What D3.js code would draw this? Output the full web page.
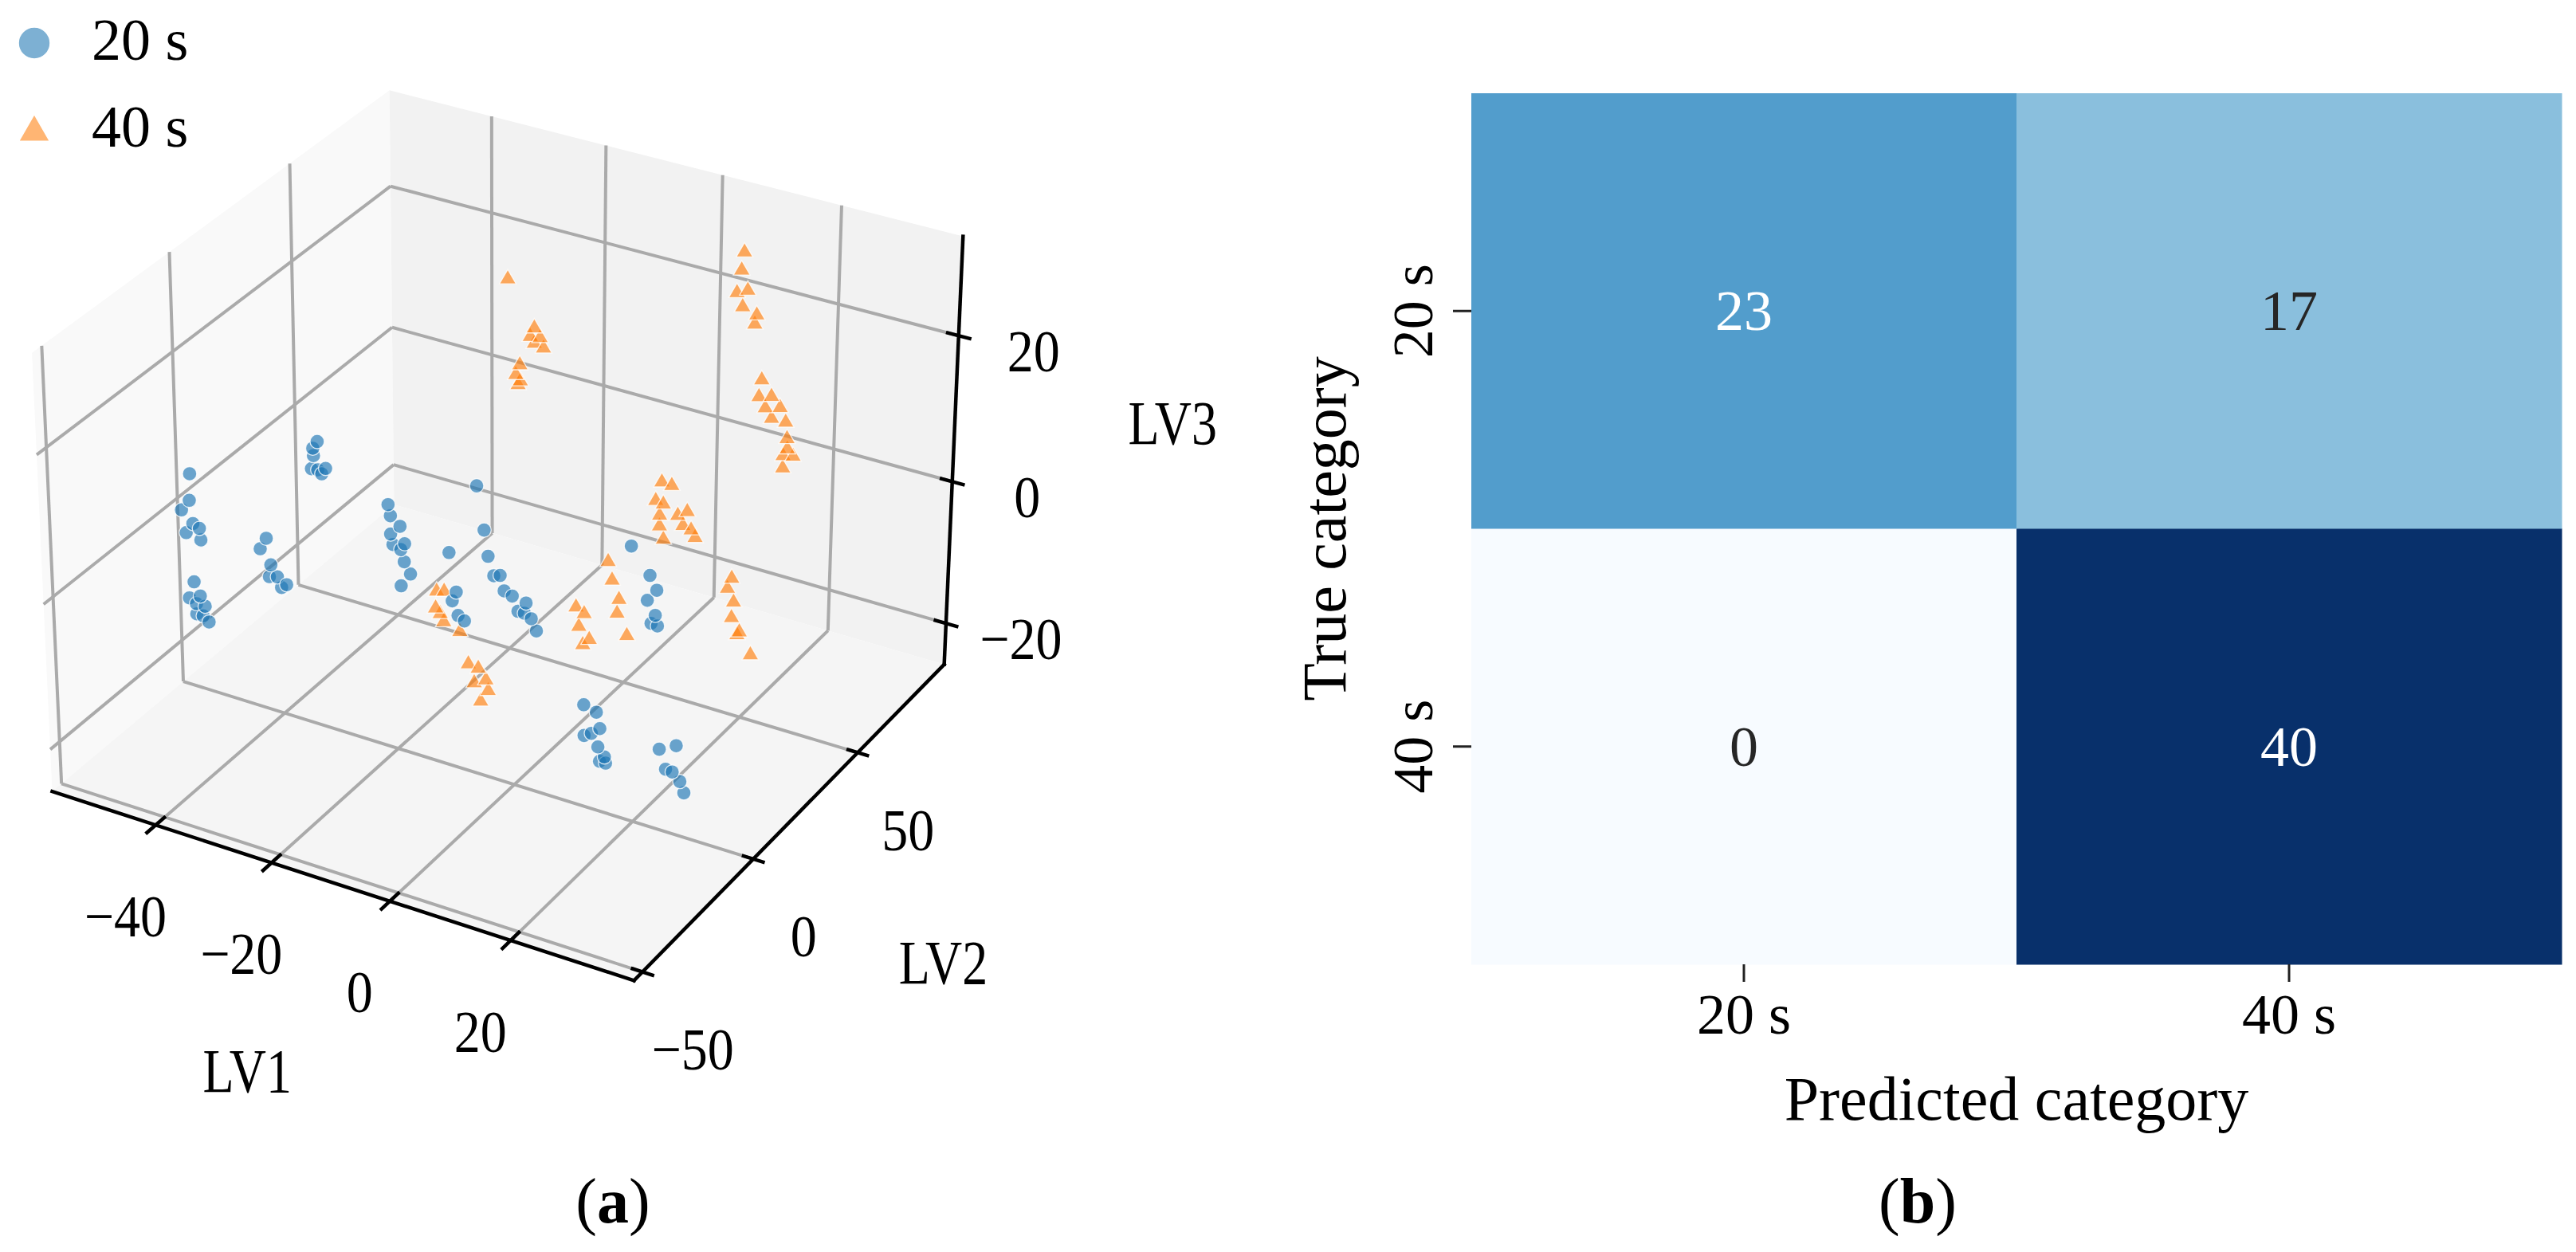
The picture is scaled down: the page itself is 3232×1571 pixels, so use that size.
<!DOCTYPE html>
<html>
<head>
<meta charset="utf-8">
<script src="https://cdn.jsdelivr.net/npm/d3@7"></script>
<style>
  html, body { margin: 0; padding: 0; background: #fff; }
  svg { display: block; }
  text { font-family: "Liberation Serif", "Times New Roman", serif; fill: #000; }
</style>
</head>
<body>
<svg id="chart" width="3232" height="1571"></svg>
<script>
// ---------------- data ----------------
// (a) latent-variable scores [LV1, LV2, LV3]
const classes = ["20 s", "40 s"];
const scores20 = [
  [-41.9,-31.6,15.4],[-42.1,-31.6,11.8],[-43.5,-31.6,10.2],[-41.6,-31.6,8.8],[-42.8,-31.6,7.3],[-40.5,-31.6,8.4],[-40.3,-31.6,6.9],
  [-41.7,-31.6,0.9],[-42.6,-31.6,-1.5],[-40.7,-31.6,-0.8],[-41.4,-31.6,-2.0],[-39.9,-31.6,-2.0],[-41.4,-31.6,-3.4],[-40.3,-31.6,-3.4],[-39.3,-31.6,-4.0],
  [-41.7,20.0,6.3],[-42.5,20.0,5.2],[-42.4,20.0,4.2],[-42.8,20.0,2.3],[-41.7,20.0,2.4],[-40.3,20.0,2.9],[-41.0,20.0,2.0],
  [-40.1,-5.8,0.2],[-41.2,-5.8,-1.5],[-39.4,-5.8,-3.3],[-39.7,-5.8,-5.0],[-38.3,-5.8,-4.7],[-37.6,-5.8,-6.0],[-36.7,-5.8,-5.4],
  [-39.9,45.8,-8.9],[-39.5,45.8,-10.4],[-37.8,45.8,-11.5],[-39.5,45.8,-13.0],[-37.0,45.8,-13.8],[-39.1,45.8,-14.4],[-37.7,45.8,-14.8],[-37.1,45.8,-16.4],[-36.0,45.8,-17.9],[-37.7,45.8,-20.0],
  [-29.2,58.7,-7.2],[-27.9,58.7,-13.2],[-27.2,58.7,-16.8],[-29.1,45.8,-13.2],
  [-16.2,32.9,-9.9],[-15.1,32.9,-9.6],[-14.4,32.9,-11.6],[-13.0,32.9,-12.0],[-10.6,32.9,-12.4],[-12.0,32.9,-13.9],[-10.9,32.9,-13.9],[-9.7,32.9,-14.4],[-8.8,32.9,-15.9],
  [-17.7,20.0,-9.0],[-18.4,20.0,-10.4],[-17.4,20.0,-12.2],[-16.3,20.0,-12.7],
  [-4.4,65.1,-11.7],
  [3.5,52.3,-10.5],[4.7,52.3,-12.3],[3.1,52.3,-14.1],[4.5,52.3,-15.9],[3.8,52.3,-17.2],[4.9,52.3,-17.3],
  [13.8,-5.8,-9.6],[15.9,-5.8,-10.1],[16.5,-5.8,-12.2],[13.9,-5.8,-13.8],[15.1,-5.8,-13.2],[16.2,-5.8,-14.8],[17.3,-5.8,-15.9],[16.5,-5.8,-16.7],[17.5,-5.8,-16.7],
  [21.7,7.1,-17.5],[24.5,7.1,-16.3],[22.8,7.1,-20.0],[23.9,7.1,-20.1],[25.2,7.1,-21.1],[25.9,7.1,-22.5]
];
const scores40 = [
  [-23.7,58.7,22.7],
  [-19.1,58.7,17.0],[-19.8,58.7,15.7],[-18.1,58.7,15.9],[-19.1,58.7,14.9],[-17.5,58.7,14.6],
  [-21.6,58.7,11.4],[-22.3,58.7,9.9],[-21.5,58.7,9.2],[-21.9,58.7,8.6],
  [9.4,78.0,28.6],[9.0,78.0,26.1],[8.3,78.0,22.9],[10.1,78.0,23.6],[9.3,78.0,21.2],[11.7,78.0,20.6],[11.4,78.0,19.3],
  [12.8,78.0,12.0],[12.4,78.0,9.6],[14.5,78.0,10.1],[13.5,78.0,8.3],[16.0,78.0,8.9],[14.6,78.0,7.1],[17.0,78.0,7.1],[17.3,78.0,4.9],[17.4,78.0,3.5],[16.7,78.0,2.4],[18.4,78.0,2.7],[16.7,78.0,0.7],
  [3.0,58.7,0.7],[4.7,58.7,0.6],[2.0,58.7,-2.1],[3.3,58.7,-2.3],[2.7,58.7,-4.0],[5.8,58.7,-3.3],[7.4,58.7,-2.4],[2.7,58.7,-5.5],[6.7,58.7,-4.5],[8.1,58.7,-4.8],[3.4,58.7,-7.2],[8.8,58.7,-5.7],
  [3.4,32.9,-3.3],[4.1,32.9,-5.7],[5.3,32.9,-8.1],[5.0,32.9,-10.1],[6.7,32.9,-12.8],
  [-2.0,32.9,-10.9],[-0.6,32.9,-11.5],[-1.5,32.9,-13.5],[0.3,32.9,-14.9],[-0.8,32.9,-15.9],
  [10.7,71.6,-14.5],[10.0,71.6,-16.1],[11.1,71.6,-17.8],[10.8,71.6,-20.1],[11.8,71.6,-22.3],[12.2,71.6,-21.8],[14.2,71.6,-24.6],
  [-21.1,20.0,-9.7],[-19.8,20.0,-9.4],[-21.3,20.0,-12.1],[-20.5,20.0,-12.7],[-19.9,20.0,-13.7],[-17.1,20.0,-14.4],
  [-10.6,7.1,-13.7],[-8.9,7.1,-13.9],[-9.6,7.1,-16.1],[-7.6,7.1,-15.2],[-7.2,7.1,-16.6],[-8.5,7.1,-18.4]
];
const lv1Range = [-58.2, 40.0];
const lv2Range = [-53.7, 93.7];
const lv3Range = [-25.9, 33.3];
const lv1Ticks = [-40, -20, 0, 20];
const lv2Ticks = [-50, 0, 50];
const lv3Ticks = [-20, 0, 20];

// (b) confusion matrix
const cmCategories = ["20 s", "40 s"];
const cmCounts = [[23, 17], [0, 40]];   // rows: true, cols: predicted

// ---------------- setup ----------------
const svg = d3.select("#chart");
svg.append("rect").attr("width", 3232).attr("height", 1571).attr("fill", "#fff");
const fmt = d3.format("d");

// matplotlib-like 3d view: elev 30, azim -60, perspective, box aspect 4:4:3
const view = { elev: 30, azim: -60, dist: 10, scale: 7320, cx: 635, cy: 646 };
const boxNorm = 1.8294640721620434 / Math.hypot(4, 4, 3);
const half = [2 * boxNorm, 2 * boxNorm, 1.5 * boxNorm];
const bx = d3.scaleLinear().domain(lv1Range).range([-half[0], half[0]]);
const by = d3.scaleLinear().domain(lv2Range).range([-half[1], half[1]]);
const bz = d3.scaleLinear().domain(lv3Range).range([-half[2], half[2]]);
const el = view.elev * Math.PI / 180, az = view.azim * Math.PI / 180;
const eyeDir = [Math.cos(el) * Math.cos(az), Math.cos(el) * Math.sin(az), Math.sin(el)];
const right = [-Math.sin(az), Math.cos(az), 0];
const up = [-Math.sin(el) * Math.cos(az), -Math.sin(el) * Math.sin(az), Math.cos(el)];
const dot = (p, q) => p[0] * q[0] + p[1] * q[1] + p[2] * q[2];

function project(x, y, z) {
  const p = [bx(x), by(y), bz(z)];
  const depth = view.dist - dot(eyeDir, p);
  return [view.cx + view.scale * dot(right, p) / depth,
          view.cy - view.scale * dot(up, p) / depth, depth];
}

const [x0, x1] = lv1Range, [y0, y1] = lv2Range, [z0, z1] = lv3Range;
const g3 = svg.append("g");
const seg = d3.line().x(d => d[0]).y(d => d[1]);
const proj = pts => pts.map(p => project(...p));

// panes
const panes = [
  { fill: "#f9f9f9", pts: [[x0, y0, z0], [x0, y1, z0], [x0, y1, z1], [x0, y0, z1]] },
  { fill: "#f2f2f2", pts: [[x0, y1, z0], [x1, y1, z0], [x1, y1, z1], [x0, y1, z1]] },
  { fill: "#f5f5f5", pts: [[x0, y0, z0], [x1, y0, z0], [x1, y1, z0], [x0, y1, z0]] }
];
g3.selectAll("path.pane").data(panes).join("path")
  .attr("class", "pane")
  .attr("d", d => seg(proj(d.pts)) + "Z")
  .attr("fill", d => d.fill);

// grid
const grid = [];
lv1Ticks.forEach(t => { grid.push([[t, y0, z0], [t, y1, z0]]); grid.push([[t, y1, z0], [t, y1, z1]]); });
lv2Ticks.forEach(t => { grid.push([[x0, t, z0], [x1, t, z0]]); grid.push([[x0, t, z0], [x0, t, z1]]); });
lv3Ticks.forEach(t => { grid.push([[x0, y0, t], [x0, y1, t]]); grid.push([[x0, y1, t], [x1, y1, t]]); });
g3.selectAll("path.grid").data(grid).join("path")
  .attr("class", "grid")
  .attr("d", d => seg(proj(d)))
  .attr("fill", "none").attr("stroke", "#aaaaaa").attr("stroke-width", 4);

// axis lines + ticks
const axisLines = [
  [[x0, y0, z0], [x1, y0, z0]],
  [[x1, y0, z0], [x1, y1, z0]],
  [[x1, y1, z0], [x1, y1, z1]]
];
const tickSegs = [
  ...lv1Ticks.map(t => [[t, y0 - 3.5, z0], [t, y0 + 3.5, z0]]),
  ...lv2Ticks.map(t => [[x1 - 1.6, t, z0], [x1 + 1.6, t, z0]]),
  ...lv3Ticks.map(t => [[x1 - 1.8, y1, t], [x1 + 1.8, y1, t]])
];
g3.selectAll("path.axis").data(axisLines.concat(tickSegs)).join("path")
  .attr("class", "axis")
  .attr("d", d => seg(proj(d)))
  .attr("fill", "none").attr("stroke", "#000").attr("stroke-width", 4.5)
  .attr("stroke-linecap", "square");

// tick labels (offset from projected tick positions)
const tickLabels = [
  ...lv1Ticks.map(t => ({ v: t, p: project(t, y0, z0), off: [-38, 114] })),
  ...lv2Ticks.map(t => ({ v: t, p: project(x1, t, z0), off: [63, 97] })),
  ...lv3Ticks.map(t => ({ v: t, p: project(x1, y1, t), off: [94, 19] }))
];
g3.selectAll("text.tick").data(tickLabels).join("text")
  .attr("class", "tick")
  .attr("transform", d => `translate(${d.p[0] + d.off[0]},${d.p[1] + d.off[1]}) scale(0.88,1)`)
  .attr("text-anchor", "middle").attr("dominant-baseline", "central")
  .attr("font-size", 75)
  .text(d => fmt(d.v));

// axis titles
const axisTitles = [
  { t: "LV1", p: project((x0 + x1) / 2, y0, z0), off: [-111, 234] },
  { t: "LV2", p: project(x1, (y0 + y1) / 2, z0), off: [185, 184] },
  { t: "LV3", p: project(x1, y1, (z0 + z1) / 2), off: [275, -41] }
];
g3.selectAll("text.atitle").data(axisTitles).join("text")
  .attr("class", "atitle")
  .attr("transform", d => `translate(${d.p[0] + d.off[0]},${d.p[1] + d.off[1]}) scale(0.82,1)`)
  .attr("text-anchor", "middle").attr("dominant-baseline", "central")
  .attr("font-size", 78)
  .text(d => d.t);

// scatter points (far to near)
const series = [
  { name: classes[1], data: scores40, color: "#ff7f0e", shape: d3.symbolTriangle, size: 190 },
  { name: classes[0], data: scores20, color: "#1f77b4", shape: d3.symbolCircle, size: 250 }
];
series.forEach(s => {
  const pts = s.data.map(d => project(d[0], d[1], d[2])).sort((a, b) => b[2] - a[2]);
  g3.append("g").selectAll("path").data(pts).join("path")
    .attr("transform", d => `translate(${d[0]},${d[1]})`)
    .attr("d", d3.symbol().type(s.shape).size(s.size))
    .attr("fill", s.color).attr("fill-opacity", 0.66)
    .attr("stroke", "#fff").attr("stroke-opacity", 0.8).attr("stroke-width", 1.3);
});

// legend
const legend = svg.append("g");
const legItems = [
  { name: classes[0], color: "#1f77b4", shape: d3.symbolCircle, size: 1250, y: 54, base: 75 },
  { name: classes[1], color: "#ff7f0e", shape: d3.symbolTriangle, size: 660, y: 166, base: 184 }
];
legItems.forEach(it => {
  legend.append("path")
    .attr("transform", `translate(43,${it.y})`)
    .attr("d", d3.symbol().type(it.shape).size(it.size))
    .attr("fill", it.color).attr("fill-opacity", 0.58)
    .attr("stroke", "#fff").attr("stroke-width", 1.5);
  legend.append("text").attr("x", 115).attr("y", it.base)
    .attr("font-size", 74).text(it.name);
});

// ---------------- (b) confusion matrix ----------------
const hm = { left: 1846, right: 3214, top: 117, bottom: 1210 };
const xb = d3.scaleBand().domain(cmCategories).range([hm.left, hm.right]);
const yb = d3.scaleBand().domain(cmCategories).range([hm.top, hm.bottom]);
const cmax = d3.max(cmCounts.flat());
const blues = d3.scaleLinear()
  .domain(d3.range(9).map(i => i / 8 * cmax))
  .range(d3.schemeBlues[9]);

const cells = [];
cmCategories.forEach((t, i) => cmCategories.forEach((p, j) =>
  cells.push({ t, p, v: cmCounts[i][j] })));

const gh = svg.append("g");
gh.selectAll("rect").data(cells).join("rect")
  .attr("x", d => xb(d.p)).attr("y", d => yb(d.t))
  .attr("width", xb.bandwidth() + 0.5).attr("height", yb.bandwidth() + 0.5)
  .attr("fill", d => blues(d.v));

gh.selectAll("text.ann").data(cells).join("text")
  .attr("class", "ann")
  .attr("x", d => xb(d.p) + xb.bandwidth() / 2)
  .attr("y", d => yb(d.t) + yb.bandwidth() / 2)
  .attr("text-anchor", "middle").attr("dominant-baseline", "central")
  .attr("font-size", 72)
  .style("fill", d => d.v / cmax > 0.5 ? "#ffffff" : "#262626")
  .text(d => d.v);

// x ticks
gh.selectAll("line.xt").data(cmCategories).join("line")
  .attr("x1", d => xb(d) + xb.bandwidth() / 2).attr("x2", d => xb(d) + xb.bandwidth() / 2)
  .attr("y1", hm.bottom).attr("y2", hm.bottom + 22)
  .attr("stroke", "#222").attr("stroke-width", 3);
gh.selectAll("text.xt").data(cmCategories).join("text")
  .attr("class", "xt")
  .attr("x", d => xb(d) + xb.bandwidth() / 2).attr("y", 1297)
  .attr("text-anchor", "middle").attr("font-size", 72)
  .text(d => d);

// y ticks
gh.selectAll("line.yt").data(cmCategories).join("line")
  .attr("y1", d => yb(d) + yb.bandwidth() / 2).attr("y2", d => yb(d) + yb.bandwidth() / 2)
  .attr("x1", hm.left - 23).attr("x2", hm.left)
  .attr("stroke", "#222").attr("stroke-width", 3);
gh.selectAll("text.yt").data(cmCategories).join("text")
  .attr("class", "yt")
  .attr("transform", d => `translate(1797,${yb(d) + yb.bandwidth() / 2}) rotate(-90)`)
  .attr("text-anchor", "middle").attr("font-size", 72)
  .text(d => d);

// axis titles
gh.append("text")
  .attr("x", (hm.left + hm.right) / 2).attr("y", 1405)
  .attr("text-anchor", "middle").attr("font-size", 78)
  .text("Predicted category");
gh.append("text")
  .attr("transform", `translate(1688,${(hm.top + hm.bottom) / 2}) rotate(-90)`)
  .attr("text-anchor", "middle").attr("font-size", 78)
  .text("True category");

// panel captions
[{ x: 769, l: "a" }, { x: 2406, l: "b" }].forEach(c => {
  const t = svg.append("text").attr("x", c.x).attr("y", 1534)
    .attr("text-anchor", "middle").attr("font-size", 80);
  t.append("tspan").text("(");
  t.append("tspan").attr("font-weight", "bold").text(c.l);
  t.append("tspan").text(")");
});
</script>
</body>
</html>
